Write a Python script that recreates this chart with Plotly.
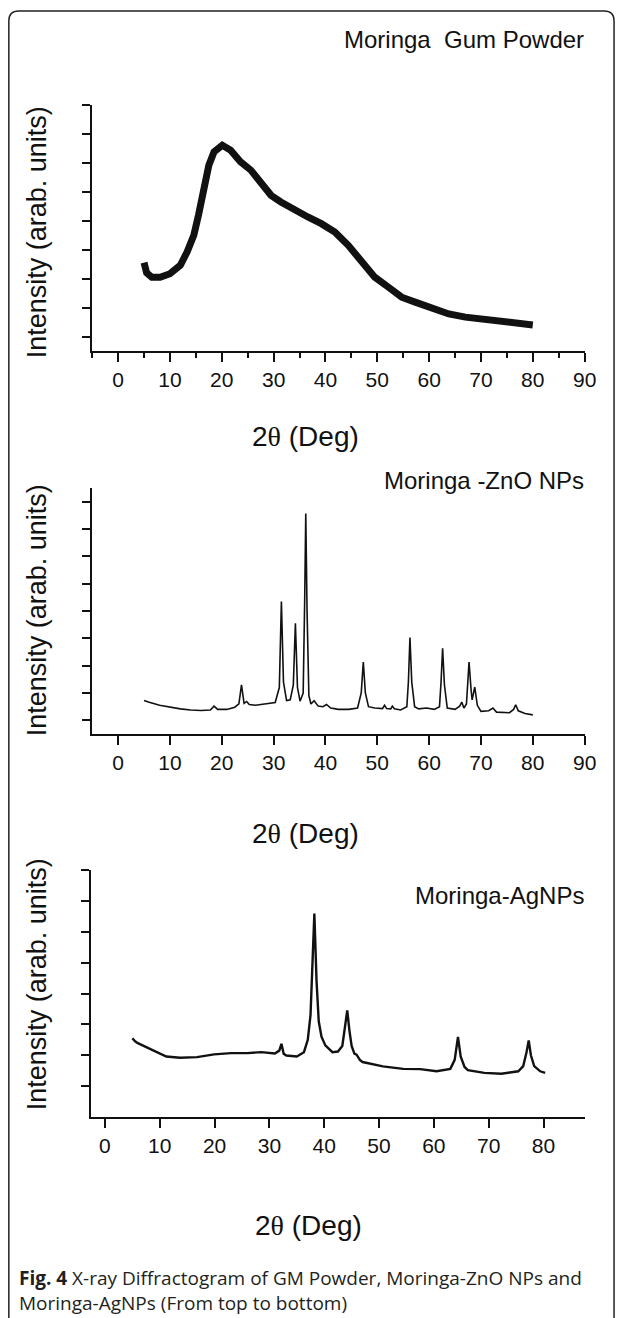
import plotly.graph_objects as go

W, H = 629, 1318

# ---------------- data ----------------
gum_x = [5.0, 5.5, 6.5, 8.1, 10.0, 12.0, 13.3, 14.6, 15.5, 16.5, 17.5, 18.5, 20.1, 21.7,
         23.6, 25.6, 27.5, 29.5, 31.4, 34.0, 36.6, 39.2, 41.8, 44.4, 47.0, 49.5, 52.1,
         54.7, 57.3, 60.6, 63.8, 67.0, 70.3, 73.5, 76.7, 80.0]
gum_y = [3.55, 3.2, 3.05, 3.05, 3.17, 3.46, 3.92, 4.5, 5.19, 6.0, 6.92, 7.38, 7.61, 7.44,
         7.04, 6.75, 6.29, 5.88, 5.65, 5.36, 5.13, 4.9, 4.61, 4.15, 3.57, 3.05, 2.71,
         2.36, 2.19, 1.96, 1.78, 1.67, 1.59, 1.5, 1.44, 1.4]

zno_x = [5.0, 6.0, 8.0, 10.0, 12.0, 14.0, 16.0, 17.8, 18.5, 19.2, 21.0, 22.5, 23.3, 23.8,
         24.3, 24.8, 25.3, 26.5, 28.5, 30.3, 31.1, 31.5, 31.9, 32.5, 33.2, 33.8, 34.2,
         34.6, 35.1, 35.7, 36.0, 36.2, 36.45, 36.8, 37.2, 37.8, 38.6, 39.5, 40.2, 41.0,
         42.5, 44.5, 46.2, 46.9, 47.3, 47.7, 48.3, 49.5, 51.0, 51.4, 51.8, 52.6, 52.9,
         53.3, 54.5, 55.7, 56.0, 56.3, 56.65, 57.2, 58.0, 59.5, 61.0, 62.0, 62.3, 62.6,
         62.95, 63.5, 65.0, 65.9, 66.3, 66.7, 67.2, 67.7, 68.1, 68.3, 68.8, 69.3, 70.0,
         71.5, 72.3, 73.0, 75.5, 76.3, 76.7, 77.2, 78.5, 80.0]
zno_y = [1.73, 1.66, 1.55, 1.48, 1.42, 1.38, 1.36, 1.38, 1.52, 1.4, 1.4, 1.48, 1.6, 2.3,
         1.62, 1.69, 1.58, 1.55, 1.6, 1.65, 2.2, 5.35, 2.4, 1.72, 1.75, 2.3, 4.55,
         2.2, 1.7, 2.0, 5.5, 8.57, 5.0, 1.9, 1.6, 1.72, 1.52, 1.5, 1.58, 1.45,
         1.4, 1.4, 1.45, 2.0, 3.13, 2.0, 1.5, 1.45, 1.43, 1.55, 1.43, 1.42, 1.52,
         1.42, 1.38, 1.5, 2.4, 4.03, 2.4, 1.5, 1.42, 1.45, 1.4, 1.5, 2.4, 3.64,
         2.3, 1.45, 1.4, 1.52, 1.67, 1.45, 1.6, 3.13, 2.1, 1.75, 2.22, 1.55, 1.33,
         1.35, 1.45, 1.3, 1.28, 1.4, 1.57, 1.35, 1.25, 1.2]

ag_x = [5.0, 5.5, 6.0, 7.5, 9.4, 11.2, 13.7, 16.8, 19.9, 23.0, 26.0, 28.5, 31.0, 31.8,
        32.2, 32.6, 33.1, 35.0, 36.3, 37.0, 37.5, 37.8, 38.2, 38.6, 39.0, 39.5, 40.2,
        41.5, 42.5, 43.3, 43.8, 44.2, 44.6, 45.0, 45.5, 45.9, 46.5, 47.0, 50.7, 54.4,
        57.5, 60.5, 63.0, 63.8, 64.4, 64.9, 65.6, 66.2, 69.2, 72.3, 75.4, 76.3, 76.9,
        77.3, 77.7, 78.3, 79.4, 80.3]
ag_y = [2.55, 2.45, 2.39, 2.26, 2.1, 1.96, 1.92, 1.94, 2.03, 2.07, 2.07, 2.1, 2.06, 2.15,
        2.37, 2.05, 1.99, 1.96, 2.1, 2.5, 3.3, 4.8, 6.59, 4.4, 3.1, 2.6, 2.32,
        2.1, 2.12, 2.3, 2.9, 3.45, 2.8, 2.3, 2.05, 2.02, 1.85, 1.78, 1.64, 1.56,
        1.55, 1.48, 1.56, 1.85, 2.59, 1.95, 1.62, 1.52, 1.43, 1.4, 1.48, 1.65, 2.1,
        2.48, 2.0, 1.65, 1.48, 1.43]

titles = ["Moringa  Gum Powder", "Moringa -ZnO NPs", "Moringa-AgNPs"]
xticks_top = [0, 10, 20, 30, 40, 50, 60, 70, 80, 90]
xticks_bottom = [0, 10, 20, 30, 40, 50, 60, 70, 80]
ylabel = "Intensity (arab. units)"
xlabel = "2<span style='font-family:Liberation Serif,serif'>θ</span> (Deg)"
caption = ("<b>Fig. 4</b> X-ray Diffractogram of GM Powder, Moringa-ZnO NPs and<br>"
           "Moringa-AgNPs (From top to bottom)")

# ---------------- helpers for pixel placement ----------------
def px(x):
    return x / W

def py(y):
    return 1 - y / H

NARROW = "Liberation Sans Narrow, Arial Narrow, Liberation Sans, Arial, sans-serif"
SANS = "Liberation Sans, Arial, sans-serif"
INK = "#111111"

fig = go.Figure()
fig.add_trace(go.Scatter(x=gum_x, y=gum_y, mode="lines", xaxis="x", yaxis="y",
                         line=dict(color=INK, width=7), showlegend=False))
fig.add_trace(go.Scatter(x=zno_x, y=zno_y, mode="lines", xaxis="x2", yaxis="y2",
                         line=dict(color=INK, width=1.6), showlegend=False))
fig.add_trace(go.Scatter(x=ag_x, y=ag_y, mode="lines", xaxis="x3", yaxis="y3",
                         line=dict(color=INK, width=2.4), showlegend=False))

common_x = dict(showline=True, linewidth=2, linecolor=INK, ticks="outside", ticklen=9,
                tickwidth=2, tickcolor=INK, showgrid=False, zeroline=False,
                tickfont=dict(family=NARROW, size=21, color=INK), fixedrange=True)
common_y = dict(showline=True, linewidth=2, linecolor=INK, ticks="outside", ticklen=8,
                tickwidth=2, tickcolor=INK, showgrid=False, zeroline=False,
                showticklabels=False, fixedrange=True)

panels = [  # (top px, bottom px)
    (105, 351),
    (488, 734),
    (870, 1117),
]

layout = dict(
    height=H, autosize=True, margin=dict(l=0, r=0, t=0, b=0),
    paper_bgcolor="white", plot_bgcolor="white", showlegend=False,
    xaxis=dict(domain=[px(94), px(596)], range=[-5, 90], anchor="y",
               tickvals=xticks_top,
               minor=dict(ticks="outside", dtick=5, tick0=0, ticklen=5, tickwidth=2,
                          tickcolor=INK, showgrid=False), **common_x),
    yaxis=dict(domain=[py(panels[0][1]), py(panels[0][0])], range=[0.5, 9], anchor="x",
               tickvals=[1, 2, 3, 4, 5, 6, 7, 8, 9], **common_y),
    xaxis2=dict(domain=[px(94), px(596)], range=[-5, 90], anchor="y2",
                tickvals=xticks_top, **common_x),
    yaxis2=dict(domain=[py(panels[1][1]), py(panels[1][0])], range=[0.5, 9.5], anchor="x2",
                tickvals=[1, 2, 3, 4, 5, 6, 7, 8, 9], **common_y),
    xaxis3=dict(domain=[px(93), px(596)], range=[-2.5, 87.5], anchor="y3",
                tickvals=xticks_bottom, **common_x),
    yaxis3=dict(domain=[py(panels[2][1]), py(panels[2][0])], range=[0, 8], anchor="x3",
                tickvals=[1, 2, 3, 4, 5, 6, 7, 8], **common_y),
)
fig.update_layout(**layout)

ann = []
# panel titles
for t, yc in zip(titles, [40, 480, 895]):
    ann.append(dict(text=t, x=px(597), y=py(yc), xref="paper", yref="paper",
                    xanchor="right", yanchor="middle", showarrow=False,
                    font=dict(family=NARROW, size=24, color=INK)))
# y labels
for yc in [232, 610, 984]:
    ann.append(dict(text=ylabel, x=px(38), y=py(yc), xref="paper", yref="paper",
                    xanchor="center", yanchor="middle", textangle=-90, showarrow=False,
                    font=dict(family=SANS, size=27, color=INK)))
# x labels
for xc, yc in [(311, 437), (311, 833), (315, 1225)]:
    ann.append(dict(text=xlabel, x=px(xc), y=py(yc), xref="paper", yref="paper",
                    xanchor="center", yanchor="middle", showarrow=False,
                    font=dict(family=NARROW, size=28, color=INK)))
# caption
ann.append(dict(text=caption, x=px(17), y=py(1290), xref="paper", yref="paper",
                xanchor="left", yanchor="middle", align="left", showarrow=False,
                font=dict(family="Open Sans, Noto Sans, sans-serif", size=19, color="#231f20")))
fig.update_layout(annotations=ann)

# outer frame (rounded top corners, open at the bottom)
r = 10
x0, x1, y0 = 9, 626, 11
path = (f"M {px(x0)},{py(H + 5)} L {px(x0)},{py(y0 + r)} "
        f"Q {px(x0)},{py(y0)} {px(x0 + r)},{py(y0)} "
        f"L {px(x1 - r)},{py(y0)} Q {px(x1)},{py(y0)} {px(x1)},{py(y0 + r)} "
        f"L {px(x1)},{py(H + 5)}")
fig.add_shape(type="path", path=path, xref="paper", yref="paper",
              line=dict(color="#222222", width=1.5))

# page styling: remove the default body margin / scrollbars before plotting
EARLY_JS = ("data:text/javascript,"
            "document.documentElement.style.overflow='hidden';"
            "document.documentElement.style.margin='0';"
            "document.body.style.margin='0';"
            "document.body.style.padding='0';"
            "document.body.style.overflow='hidden';//x.js")

fig.write_html(
    "out.html",
    config={"displayModeBar": False, "responsive": True},
    include_mathjax=EARLY_JS,
    default_width="100%",
)
